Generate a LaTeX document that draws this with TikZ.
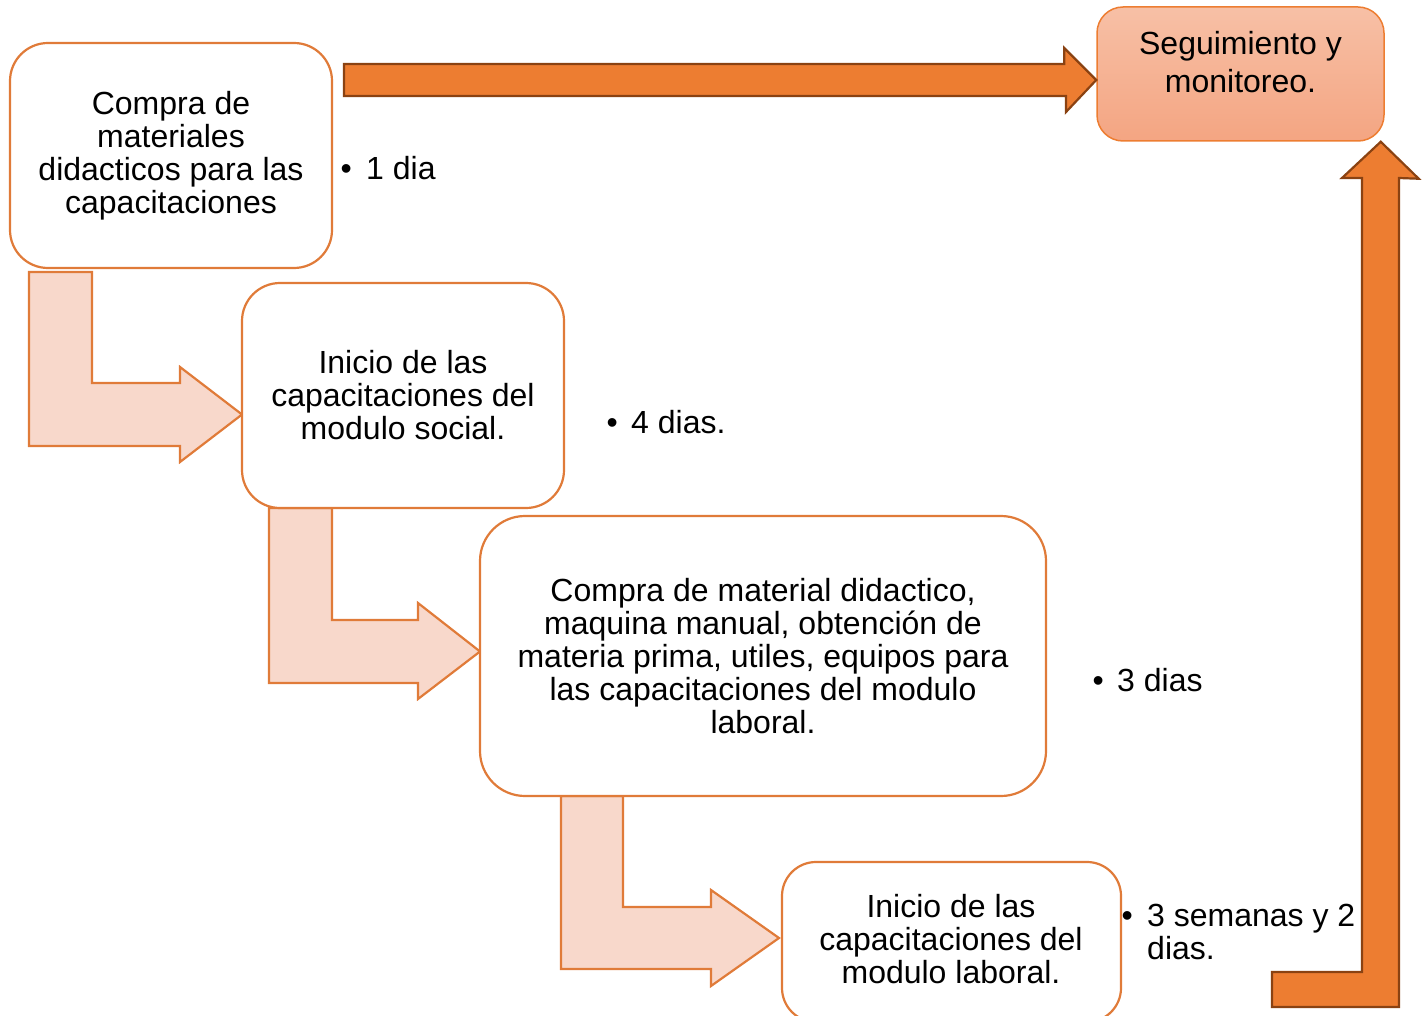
\documentclass[tikz,border=0pt]{standalone}
\usepackage{fontspec}
\setmainfont{Liberation Sans}
\usetikzlibrary{calc}
\definecolor{boxline}{HTML}{E07B39}
\definecolor{peach}{HTML}{F8D8CB}
\definecolor{orangeA}{HTML}{ED7D31}
\definecolor{brownA}{HTML}{8A4212}
\definecolor{segtop}{HTML}{F7C0A6}
\definecolor{segbot}{HTML}{F4A582}
\tikzset{
  stepbox/.style={draw=boxline, line width=2.2pt, fill=white, rounded corners=38pt, align=center, inner sep=0pt,
    font=\fontsize{32}{33}\selectfont},
  segbox/.style={draw=orangeA, line width=1.5pt, rounded corners=26pt, top color=segtop, bottom color=segbot, inner sep=0pt},
  lightarrow/.style={draw=boxline, line width=2.2pt, fill=peach, line join=miter},
  darkarrow/.style={draw=brownA, line width=2.2pt, fill=orangeA, line join=miter},
  bullettext/.style={anchor=west, inner sep=0pt, align=left, font=\fontsize{32}{33}\selectfont},
}
\newcommand{\bul}[1]{\makebox[#1][l]{\hspace*{0pt}•}}
\begin{document}
\begin{tikzpicture}[x=1pt,y=-1pt]
\useasboundingbox (0,0) rectangle (1426,1016);
\clip (0,0) rectangle (1426,1016);

% tips of the bent arrows
\coordinate (t1) at (242,414.5);
\coordinate (t2) at (480,651.5);
\coordinate (t3) at (779,938);

% light bent arrows (under the boxes)
\draw[lightarrow] (t1) -- ++(-62,-47.5) -- ++(0,16) -- (92,383) -- (92,272) -- (29,272) -- (29,446) -- (180,446) -- (180,462) -- cycle;
\draw[lightarrow] (t2) -- ++(-62,-48.5) -- ++(0,17) -- (332,620) -- (332,508) -- (269,508) -- (269,683) -- (418,683) -- (418,699) -- cycle;
\draw[lightarrow] (t3) -- ++(-68,-48) -- ++(0,17) -- (623,907) -- (623,796) -- (561,796) -- (561,969) -- (711,969) -- (711,986) -- cycle;

% boxes
\node[stepbox, minimum width=322pt, minimum height=225pt] (b1) at (171,155.5)
  {Compra de\\materiales\\didacticos para las\\capacitaciones};
\node[stepbox, minimum width=322pt, minimum height=225pt] (b2) at (403,395.5)
  {Inicio de las\\capacitaciones del\\modulo social.};
\node[stepbox, minimum width=566pt, minimum height=280pt, rounded corners=45pt] (b3) at (763,656)
  {Compra de material didactico,\\maquina manual, obtención de\\materia prima, utiles, equipos para\\las capacitaciones  del modulo\\laboral.};
\node[stepbox, minimum width=339pt, minimum height=160pt, rounded corners=34pt] (b4) at (951.5,942)
  {};
\node[align=center, inner sep=0pt, font=\fontsize{32}{33}\selectfont] (b4t) at (951,939.5)
  {Inicio de las\\capacitaciones del\\modulo laboral.};
\node[segbox, minimum width=287pt, minimum height=134pt] (seg) at (1240.5,74) {};
\node[align=center, inner sep=0pt, font=\fontsize{32}{38}\selectfont] (segt) at (1240.5,62)
  {Seguimiento y\\monitoreo.};

% dark arrows
\draw[darkarrow] ([yshift=-6pt]seg.west) -- ++(-32,-32) -- ++(0,16) -- (344,64) -- (344,96) -- (1066,96) -- (1066,112) -- cycle;
\draw[darkarrow] ([xshift=-4pt]seg.south east) -- ++(38,37) -- (1399,178) -- (1399,1007) -- (1272,1007) -- (1272,972) -- (1362,972) -- (1362,178) -- (1342,178) -- cycle;

% durations
\node[bullettext] (d1) at (340.5,168) {\bul{25.5pt}1 dia};
\node[bullettext] (d2) at (606.5,422) {\bul{24.5pt}4 dias.};
\node[bullettext] (d3) at (1092.5,680) {\bul{24.5pt}3 dias};
\node[bullettext] (d4) at (1121.5,931.5) {\bul{25.5pt}3 semanas y 2\\\hspace*{25.5pt}dias.};
\end{tikzpicture}
\end{document}
